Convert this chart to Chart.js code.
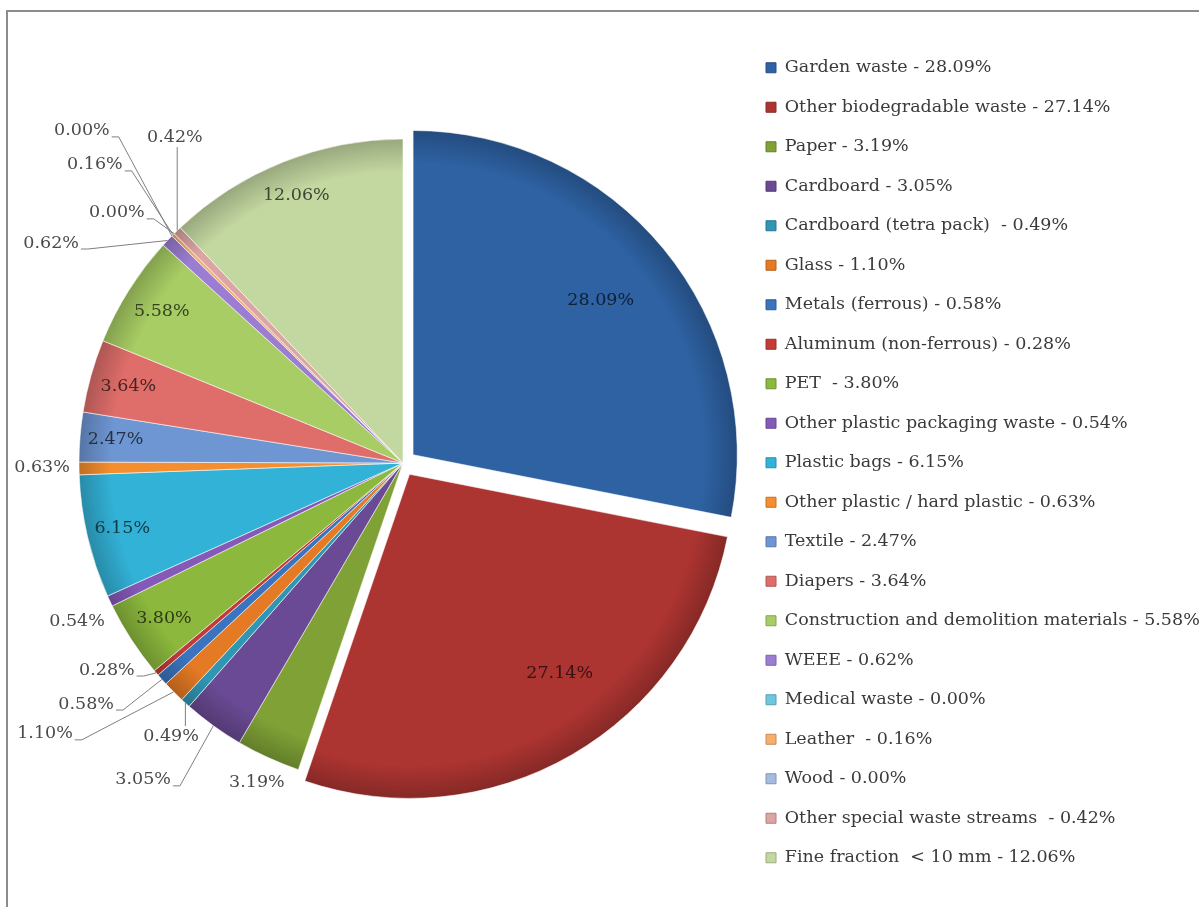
<!DOCTYPE html>
<html>
<head>
<meta charset="utf-8">
<title>Waste composition</title>
<script src="https://cdn.jsdelivr.net/npm/chart.js@4.4.1/dist/chart.umd.min.js"></script>
<style>
  html, body { margin: 0; padding: 0; background: #fff; overflow: hidden; }
  .frame {
    position: absolute; left: 6px; top: 10px; right: -10px; bottom: -10px;
    border-left: 2px solid #8c8c8c; border-top: 2px solid #8c8c8c;
  }
  #wasteChart { position: absolute; left: 0; top: 0; }
</style>
</head>
<body>
<div class="frame"></div>
<canvas id="wasteChart" width="1199" height="907"></canvas>
<script>
// --- DATA ---
const categories = [
  "Garden waste", "Other biodegradable waste", "Paper", "Cardboard",
  "Cardboard (tetra pack) ", "Glass", "Metals (ferrous)", "Aluminum (non-ferrous)",
  "PET ", "Other plastic packaging waste", "Plastic bags", "Other plastic / hard plastic",
  "Textile", "Diapers", "Construction and demolition materials", "WEEE",
  "Medical waste", "Leather ", "Wood", "Other special waste streams ", "Fine fraction  < 10 mm"
];
const shares = [
  28.09, 27.14, 3.19, 3.05, 0.49, 1.10, 0.58, 0.28, 3.80, 0.54, 6.15,
  0.63, 2.47, 3.64, 5.58, 0.62, 0.00, 0.16, 0.00, 0.42, 12.06
];

// --- STYLE ---
const sliceColors = [
  "#2e62a3", "#ac3431", "#7fa136", "#6a4a94", "#2f96b3", "#e57a24", "#3a74be",
  "#c23b38", "#8cb83d", "#8459b8", "#33b2d8", "#f58e2e", "#6e96d3", "#df6e6a",
  "#a8cd64", "#9b7ed2", "#6fc7df", "#f7ae6c", "#a5bbe0", "#dca4a3", "#c3d7a0"
];
const explode = [52, 52]; // first two slices pulled out (arc translates by offset / 4)
const PIE_RADIUS = 324;
const FONT = "'DejaVu Serif', serif";
const FONT_SIZE = 17.5;

// where each slice's value label goes: r = inside at fraction of radius,
// at = [dx, dy] outside in radius units from the pie centre, lead = leader line side
const labelSpots = [
  { r: 0.75 }, { r: 0.77, da: -7 }, { at: [-0.451, 0.985] },
  { at: [-0.802, 0.978], lead: "right" }, { at: [-0.716, 0.843], lead: "top" },
  { at: [-1.105, 0.836], lead: "right" }, { at: [-0.978, 0.744], lead: "right" },
  { at: [-0.914, 0.639], lead: "right" }, { r: 0.88 }, { at: [-1.006, 0.488] },
  { r: 0.89 }, { at: [-1.114, 0.015] }, { r: 0.89 }, { r: 0.88 }, { r: 0.88 },
  { at: [-1.086, -0.679], lead: "right" }, { at: [-0.991, -1.025], lead: "right" },
  { at: [-0.951, -0.920], lead: "right" }, { at: [-0.883, -0.772], lead: "right" },
  { at: [-0.704, -1.006], lead: "bottom" }, { r: 0.89 }
];

function shade(hex, k) {
  const n = parseInt(hex.slice(1), 16);
  const r = Math.round(((n >> 16) & 255) * k);
  const g = Math.round(((n >> 8) & 255) * k);
  const b = Math.round((n & 255) * k);
  return `rgb(${r},${g},${b})`;
}

// radial shading so the rim of each slice reads a little darker
function sliceFill(ctx) {
  const base = sliceColors[ctx.dataIndex];
  const area = ctx.chart.chartArea;
  if (!area || ctx.type !== "data") return base;
  const cx = (area.left + area.right) / 2;
  const cy = (area.top + area.bottom) / 2;
  const g = ctx.chart.ctx.createRadialGradient(cx, cy, 0, cx, cy, PIE_RADIUS);
  g.addColorStop(0, base);
  g.addColorStop(0.9, base);
  g.addColorStop(1, shade(base, 0.78));
  return g;
}

const valueLabels = {
  id: "valueLabels",
  afterDatasetsDraw(chart) {
    const ctx = chart.ctx;
    const meta = chart.getDatasetMeta(0);
    ctx.save();
    ctx.font = `${FONT_SIZE}px ${FONT}`;
    ctx.textAlign = "center";
    ctx.textBaseline = "middle";
    meta.data.forEach((arc, i) => {
      const { x, y, startAngle, endAngle, outerRadius } = arc.getProps(["x", "y", "startAngle", "endAngle", "outerRadius"], true);
      const spot = labelSpots[i];
      const mid = (startAngle + endAngle) / 2;
      const text = shares[i].toFixed(2) + "%";
      const push = (explode[i] || 0) / 4;
      const cx = x + Math.cos(mid) * push;
      const cy = y + Math.sin(mid) * push;
      if (spot.r) {
        const a = mid + (spot.da || 0) * Math.PI / 180;
        ctx.fillStyle = shade(sliceColors[i], 0.32);
        ctx.fillText(text, cx + Math.cos(a) * outerRadius * spot.r, cy + Math.sin(a) * outerRadius * spot.r);
        return;
      }
      const tx = x + spot.at[0] * outerRadius;
      const ty = y + spot.at[1] * outerRadius;
      ctx.fillStyle = "#4a4a4a";
      ctx.fillText(text, tx, ty);
      if (!spot.lead) return;
      const w = ctx.measureText(text).width;
      const px = x + Math.cos(mid) * outerRadius;
      const py = y + Math.sin(mid) * outerRadius;
      ctx.strokeStyle = "#7f7f7f";
      ctx.lineWidth = 1;
      ctx.beginPath();
      if (spot.lead === "right") {
        const sx = tx + w / 2 + 2, sy = ty + 6;
        ctx.moveTo(sx, sy);
        ctx.lineTo(sx + 7, sy);
        ctx.lineTo(px, py);
      } else {
        const lx = Math.min(Math.max(px, tx - w / 2), tx + w / 2);
        const ly = spot.lead === "top" ? ty - 10 : ty + 10;
        ctx.moveTo(lx, ly);
        ctx.lineTo(px, py);
      }
      ctx.stroke();
    });
    ctx.restore();
  }
};

new Chart(document.getElementById("wasteChart"), {
  type: "pie",
  data: {
    labels: categories,
    datasets: [{
      data: shares,
      backgroundColor: sliceFill,
      borderColor: "rgba(255,255,255,0.55)",
      borderWidth: 1,
      offset: shares.map((v, i) => explode[i] || 0),
      radius: PIE_RADIUS
    }]
  },
  options: {
    responsive: false,
    animation: false,
    events: [],
    layout: { padding: { left: 62, top: 37, right: 0, bottom: 18 } },
    plugins: {
      tooltip: { enabled: false },
      legend: {
        position: "right",
        align: "start",
        maxWidth: 455,
        labels: {
          boxWidth: 10,
          boxHeight: 10,
          padding: 22,
          color: "#3a3a3a",
          font: { family: FONT, size: FONT_SIZE },
          generateLabels: chart => categories.map((name, i) => ({
            text: `${name} - ${shares[i].toFixed(2)}%`,
            fillStyle: sliceColors[i],
            strokeStyle: shade(sliceColors[i], 0.8),
            lineWidth: 1,
            fontColor: "#3a3a3a",
            hidden: false,
            index: i
          }))
        }
      }
    }
  },
  plugins: [valueLabels]
});
</script>
</body>
</html>
